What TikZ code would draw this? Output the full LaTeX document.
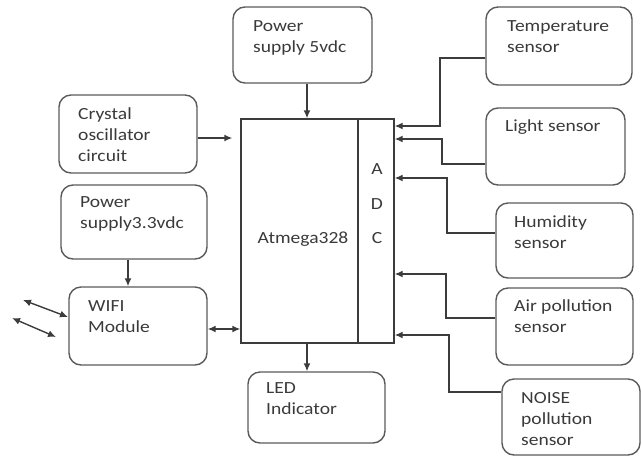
\documentclass[tikz,border=0pt]{standalone}
\usepackage{fontspec}
\setmainfont{Carlito}[FakeStretch=1.15]
\usetikzlibrary{arrows.meta,calc}
\definecolor{linec}{HTML}{3C3C3C}
\definecolor{boxc}{HTML}{5A5A5A}
\definecolor{txtc}{HTML}{3A3A3A}
\begin{document}
\begin{tikzpicture}[x=1pt,y=-1pt,
 box/.style={draw=boxc, line width=1.4pt, rounded corners=12pt, inner sep=0pt},
 blk/.style={draw=linec, line width=1.4pt, inner sep=0pt},
 txt/.style={text=txtc, font=\fontsize{17}{21}\selectfont, align=left, inner sep=0pt, anchor=base west},
 arr/.style={draw=linec, line width=1.4pt, -{Latex[length=8pt,width=7pt]}},
 darr/.style={draw=linec, line width=1.4pt, {Latex[length=8pt,width=7pt]}-{Latex[length=8pt,width=7pt]}}]
\useasboundingbox (0,0) rectangle (642,456);
% boxes
\node[box, minimum width=139pt, minimum height=76pt] (ps5) at (302.5,45) {};
\node[box, minimum width=146pt, minimum height=78pt] (tmp) at (559,46) {};
\node[box, minimum width=139pt, minimum height=77pt] (lgt) at (555.5,146.5) {};
\node[box, minimum width=137pt, minimum height=75pt] (hum) at (564.5,240.5) {};
\node[box, minimum width=137pt, minimum height=77pt] (air) at (564.5,326.5) {};
\node[box, minimum width=138pt, minimum height=76pt] (noi) at (571,417) {};
\node[box, minimum width=138pt, minimum height=78pt] (cry) at (128,134) {};
\node[box, minimum width=146pt, minimum height=74pt] (ps33) at (134,222) {};
\node[box, minimum width=138pt, minimum height=78pt] (wifi) at (138,326) {};
\node[box, minimum width=137pt, minimum height=71pt] (led) at (316.5,407.5) {};
\node[blk, minimum width=117pt, minimum height=224pt] (mcu) at (299.5,231) {};
\node[blk, minimum width=36pt, minimum height=224pt] (adc) at (376,231) {};
% texts (anchor at baseline of last line)
\node[txt] (ps5t) at (253,52) {Power\\supply 5vdc};
\node[txt] (tmpt) at (507,52) {Temperature\\sensor};
\node[txt] (lgtt) at (505,131) {Light sensor};
\node[txt] (humt) at (514,248) {Humidity\\sensor};
\node[txt] (airt) at (514,332) {Air pollution\\sensor};
\node[txt] (noit) at (521,445) {NOISE\\pollution\\sensor};
\node[txt] (cryt) at (78,161) {Crystal\\oscillator\\circuit};
\node[txt] (ps33t) at (80,228) {Power\\supply3.3vdc};
\node[txt] (wifit) at (88,332) {WIFI\\Module};
\node[txt] (ledt) at (266,414) {LED\\Indicator};
\node[txt, anchor=base] (mcut) at (303,243) {Atmega328};
\node[txt, anchor=base] (adcA) at (377,174) {A};
\node[txt, anchor=base] (adcD) at (377,209) {D};
\node[txt, anchor=base] (adcC) at (377,243) {C};
% connectors
\draw[arr] ([xshift=4.5pt]ps5.south) -- ([xshift=4.5pt]ps5.south |- mcu.north);
\draw[arr, shorten >=8pt] ([yshift=-4pt]cry.east) -- ([yshift=-4pt]cry.east -| mcu.west);
\coordinate (t1) at (440,126);
\coordinate (l1) at (442,139);
\coordinate (h1) at (447,178);
\coordinate (a1) at (446,274);
\coordinate (n1) at (449,335);
\draw[arr] ([yshift=-12pt]tmp.west) -| (t1) -- (t1 -| adc.east);
\draw[arr] ([yshift=-17.5pt]lgt.west) -| (l1) -- (l1 -| adc.east);
\draw[arr] ([yshift=7.5pt]hum.west) -| (h1) -- (h1 -| adc.east);
\draw[arr] ([yshift=8.5pt]air.west) -| (a1) -- (a1 -| adc.east);
\draw[arr] ([yshift=25pt]noi.west) -| (n1) -- (n1 -| adc.east);
\draw[arr] ([xshift=-6pt]ps33.south) -- ([xshift=-6pt]ps33.south |- wifi.north);
\draw[darr] ([yshift=-3pt]wifi.east) -- ([yshift=-3pt]wifi.east -| mcu.west);
\draw[arr] ([xshift=7.5pt]mcu.south) -- ([xshift=7.5pt]mcu.south |- led.north);
\coordinate (w1a) at (23,300);
\coordinate (w1b) at (68,317);
\coordinate (w2a) at (12,318);
\coordinate (w2b) at (56,337);
\draw[darr] (w1a) -- (w1b);
\draw[darr] (w2a) -- (w2b);
\end{tikzpicture}
\end{document}
